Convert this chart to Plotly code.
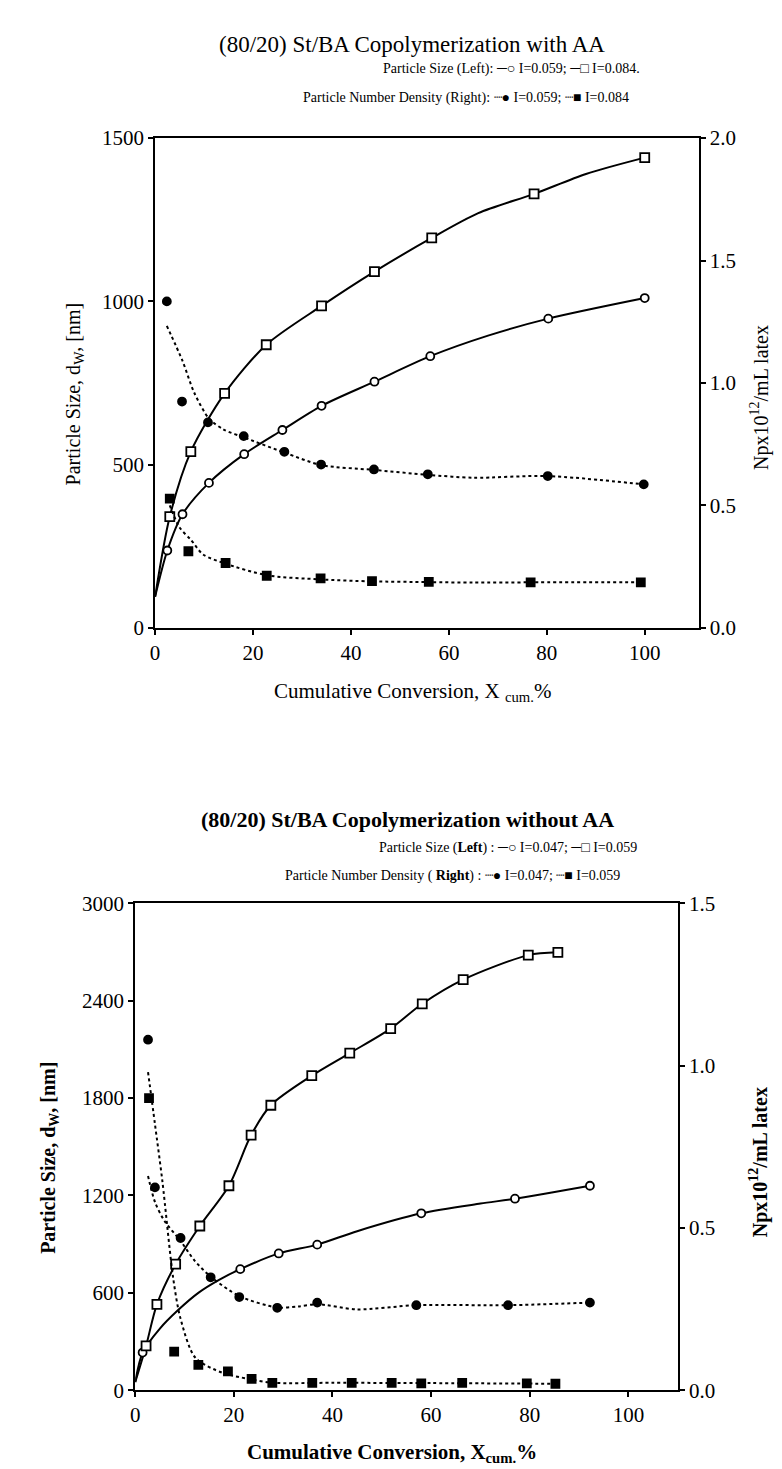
import plotly.graph_objects as go

W, H = 782, 1469

# ---------------- Top chart: (80/20) St/BA with AA ----------------
# Particle size (left axis), I=0.059 (open circles)
top_size1_x = [2.5, 5.6, 11.0, 18.2, 26.0, 34.0, 44.8, 56.2, 80.3, 100]
top_size1_y = [237, 348, 444, 532, 606, 680, 754, 832, 947, 1010]
top_size1_fit_x = [0, 2.5, 5.6, 11.0, 18.2, 26.0, 34.0, 44.8, 56.2, 68, 80.3, 100]
top_size1_fit_y = [95, 237, 348, 444, 532, 606, 680, 754, 832, 895, 947, 1010]
# Particle size (left axis), I=0.084 (open squares)
top_size2_x = [3.0, 7.3, 14.2, 22.7, 34.0, 44.8, 56.5, 77.4, 100]
top_size2_y = [341, 540, 718, 867, 986, 1091, 1194, 1329, 1440]
top_size2_fit_x = [0, 3.0, 7.3, 14.2, 22.7, 34.0, 44.8, 56.5, 66, 77.4, 88, 100]
top_size2_fit_y = [95, 341, 540, 718, 867, 986, 1091, 1194, 1270, 1329, 1390, 1440]
# Number density (right axis), I=0.059 (filled circles)
top_np1_x = [2.4, 5.5, 10.8, 18.1, 26.4, 33.9, 44.7, 55.7, 80.2, 99.8]
top_np1_y = [1.333, 0.924, 0.839, 0.783, 0.719, 0.667, 0.647, 0.627, 0.620, 0.586]
top_np1_fit_x = [2.4, 5.6, 8.0, 11.0, 14.0, 18.1, 26.4, 33.9, 44.7, 55.7, 65, 80.2, 99.8]
top_np1_fit_y = [1.233, 1.09, 0.96, 0.855, 0.81, 0.778, 0.716, 0.665, 0.645, 0.625, 0.613, 0.62, 0.586]
# Number density (right axis), I=0.084 (filled squares)
top_np2_x = [3.0, 6.8, 14.4, 22.8, 33.8, 44.3, 55.9, 76.7, 99.2]
top_np2_y = [0.528, 0.313, 0.265, 0.213, 0.202, 0.191, 0.188, 0.186, 0.186]
top_np2_fit_x = [3.0, 5.0, 7.3, 9.8, 14.4, 22.8, 33.8, 44.3, 55.9, 65, 76.7, 99.2]
top_np2_fit_y = [0.50, 0.41, 0.36, 0.30, 0.262, 0.215, 0.198, 0.19, 0.187, 0.185, 0.186, 0.186]

# ---------------- Bottom chart: (80/20) St/BA without AA ----------------
bot_size1_x = [1.5, 21.3, 29.1, 36.9, 58.0, 77.0, 92.2]
bot_size1_y = [232, 746, 843, 897, 1090, 1180, 1260]
bot_size1_fit_x = [0, 1.5, 5.0, 8.7, 12.8, 17.0, 21.3, 29.1, 36.9, 45, 58, 70, 77, 92.2]
bot_size1_fit_y = [50, 232, 380, 494, 600, 680, 746, 843, 897, 980, 1090, 1150, 1180, 1260]
bot_size2_x = [2.2, 4.4, 8.2, 13.1, 19.0, 23.5, 27.5, 35.8, 43.5, 51.8, 58.2, 66.5, 79.7, 85.7]
bot_size2_y = [273, 529, 777, 1012, 1260, 1572, 1756, 1938, 2077, 2228, 2381, 2530, 2681, 2698]
bot_size2_fit_x = [0] + bot_size2_x
bot_size2_fit_y = [50] + bot_size2_y
bot_np1_x = [2.6, 4.0, 9.2, 15.3, 21.1, 28.8, 36.9, 57.0, 75.6, 92.2]
bot_np1_y = [1.08, 0.625, 0.469, 0.348, 0.287, 0.254, 0.270, 0.262, 0.262, 0.270]
bot_np1_fit_x = [2.6, 4.0, 6.0, 9.2, 12.0, 15.3, 21.1, 28.8, 33, 36.9, 45, 57, 75.6, 92.2]
bot_np1_fit_y = [0.66, 0.58, 0.52, 0.46, 0.40, 0.35, 0.29, 0.255, 0.258, 0.265, 0.249, 0.262, 0.262, 0.27]
bot_np2_x = [2.8, 7.9, 12.8, 18.8, 23.6, 27.8, 35.9, 43.9, 52.0, 58.0, 66.3, 79.4, 85.2]
bot_np2_y = [0.90, 0.119, 0.078, 0.058, 0.035, 0.023, 0.023, 0.023, 0.023, 0.021, 0.023, 0.021, 0.020]
bot_np2_fit_x = [2.6, 4.0, 5.5, 7.7, 9.2, 12.2, 17.8, 23.0, 28.0, 40, 60, 85.2]
bot_np2_fit_y = [0.98, 0.82, 0.645, 0.345, 0.22, 0.10, 0.053, 0.035, 0.023, 0.023, 0.022, 0.02]

top_left_ticks = [0, 500, 1000, 1500]
top_right_ticks = [0.0, 0.5, 1.0, 1.5, 2.0]
bot_left_ticks = [0, 600, 1200, 1800, 2400, 3000]
bot_right_ticks = [0.0, 0.5, 1.0, 1.5]
x_ticks = [0, 20, 40, 60, 80, 100]

FONT = "Liberation Serif"
BLACK = "black"

fig = go.Figure()


def line(x, y, xa, ya, dash):
    fig.add_trace(go.Scatter(x=x, y=y, xaxis=xa, yaxis=ya, mode="lines",
                             line=dict(color=BLACK, width=2, dash=dash, shape="spline", smoothing=0.8),
                             showlegend=False, hoverinfo="skip"))


def pts(x, y, xa, ya, symbol, filled, size=8):
    fig.add_trace(go.Scatter(x=x, y=y, xaxis=xa, yaxis=ya, mode="markers",
                             marker=dict(symbol=symbol, size=size, color=BLACK if filled else "white",
                                         line=dict(color=BLACK, width=1.8)),
                             showlegend=False))


# top
line(top_size1_fit_x, top_size1_fit_y, "x", "y", "solid")
line(top_size2_fit_x, top_size2_fit_y, "x", "y", "solid")
line(top_np1_fit_x, top_np1_fit_y, "x", "y2", "dot")
line(top_np2_fit_x, top_np2_fit_y, "x", "y2", "dot")
pts(top_size1_x, top_size1_y, "x", "y", "circle", False)
pts(top_size2_x, top_size2_y, "x", "y", "square", False, 9)
pts(top_np1_x, top_np1_y, "x", "y2", "circle", True)
pts(top_np2_x, top_np2_y, "x", "y2", "square", True)
# bottom
line(bot_size1_fit_x, bot_size1_fit_y, "x2", "y3", "solid")
line(bot_size2_fit_x, bot_size2_fit_y, "x2", "y3", "solid")
line(bot_np1_fit_x, bot_np1_fit_y, "x2", "y4", "dot")
line(bot_np2_fit_x, bot_np2_fit_y, "x2", "y4", "dot")
pts(bot_size1_x, bot_size1_y, "x2", "y3", "circle", False)
pts(bot_size2_x, bot_size2_y, "x2", "y3", "square", False, 9)
pts(bot_np1_x, bot_np1_y, "x2", "y4", "circle", True)
pts(bot_np2_x, bot_np2_y, "x2", "y4", "square", True)


def px(x0, x1):
    return [x0 / W, x1 / W]


def py(top, bottom):
    return [1 - bottom / H, 1 - top / H]


tickfont = dict(family=FONT, size=21, color=BLACK)
axis_common = dict(showline=True, linecolor=BLACK, linewidth=2, ticks="outside", ticklen=5,
                   tickcolor=BLACK, tickwidth=1.5, showgrid=False, zeroline=False, tickfont=tickfont)

fig.update_layout(
    width=W, height=H, margin=dict(l=0, r=0, t=0, b=0),
    plot_bgcolor="white", paper_bgcolor="white", showlegend=False,
    xaxis=dict(domain=px(143, 690), range=[0, 111], tickvals=x_ticks, anchor="y", mirror=True, **axis_common),
    yaxis=dict(domain=py(120, 618), range=[0, 1500], tickvals=top_left_ticks, anchor="x", **axis_common),
    yaxis2=dict(overlaying="y", side="right", anchor="x", range=[0, 2.0], tickvals=top_right_ticks,
                tickformat=".1f", **axis_common),
    xaxis2=dict(domain=px(123, 669), range=[0, 110], tickvals=x_ticks, anchor="y3", mirror=True, **axis_common),
    yaxis3=dict(domain=py(898, 1393), range=[0, 3000], tickvals=bot_left_ticks, anchor="x2", **axis_common),
    yaxis4=dict(overlaying="y3", side="right", anchor="x2", range=[0, 1.5], tickvals=bot_right_ticks,
                tickformat=".1f", **axis_common),
)


def ann(text, x, y, size, angle=0, xanchor="center"):
    fig.add_annotation(text=text, x=x / W, y=1 - y / H, xref="paper", yref="paper", showarrow=False,
                       xanchor=xanchor, yanchor="middle", textangle=angle,
                       font=dict(family=FONT, size=size, color=BLACK))


# top texts
ann("(80/20) St/BA Copolymerization with AA", 402, 25, 23)
ann("Particle Size (Left): ─○ I=0.059; ─□ I=0.084.", 633, 50, 14, xanchor="right")
ann("Particle Number Density (Right): ┈● I=0.059; ┈■ I=0.084", 622, 79, 14, xanchor="right")
ann("Cumulative Conversion, X <sub>cum.</sub>%", 402, 683, 21)
ann("Particle Size, d<sub>W</sub>, [nm]", 62, 380, 20, angle=-90)
ann("Npx10<sup>12</sup>/mL latex", 752, 384, 20, angle=-90)

# bottom texts
ann("<b>(80/20) St/BA Copolymerization without AA</b>", 397, 813, 22)
ann("Particle Size (<b>Left</b>) : ─○ I=0.047; ─□ I=0.059", 630, 842, 14, xanchor="right")
ann("Particle Number Density ( <b>Right</b>) : ┈● I=0.047; ┈■ I=0.059", 613, 870, 14, xanchor="right")
ann("<b>Cumulative Conversion, X<sub>cum.</sub>%</b>", 381, 1457, 21)
ann("<b>Particle Size, d<sub>W</sub>, [nm]</b>", 36, 1157, 20, angle=-90)
ann("<b>Npx10<sup>12</sup>/mL latex</b>", 750, 1161, 20, angle=-90)

fig.write_html("out.html")
